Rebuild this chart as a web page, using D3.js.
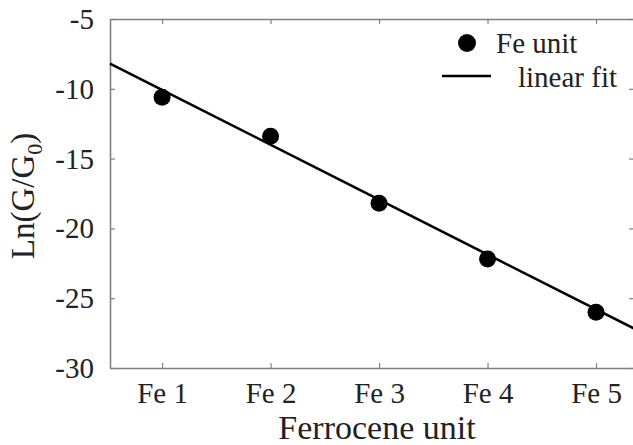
<!DOCTYPE html>
<html>
<head>
<meta charset="utf-8">
<script src="https://cdn.jsdelivr.net/npm/d3@7/dist/d3.min.js"></script>
<style>
  html, body { margin: 0; padding: 0; background: #fff; }
  svg { display: block; }
  text { font-family: "Liberation Serif", "Times New Roman", serif; fill: #222; }
</style>
</head>
<body>
<svg id="chart" width="633" height="445"></svg>
<script>
// ---- data ----
const categories = ["Fe 1", "Fe 2", "Fe 3", "Fe 4", "Fe 5"];
const unitIndex = [1, 2, 3, 4, 5];
const lnValues = [-10.6, -13.4, -18.2, -22.2, -26.0];
const fitSlope = -3.93;
const fitIntercept = -6.15;
const yTicks = [-30, -25, -20, -15, -10, -5];
const yTickLabels = ["-30", "-25", "-20", "-15", "-10", "-5"];

// ---- layout ----
const svg = d3.select("#chart");
const plotL = 110, plotR = 634, plotT = 19, plotB = 368;
const xDomain = [0.52, 5.35];

const x = d3.scaleLinear().domain(xDomain).range([plotL, plotR]);
const y = d3.scaleLinear().domain([-30, -5]).range([plotB, plotT]);

const axisColor = "#808080";
const tickFont = 29;

// bottom axis
const gx = svg.append("g").attr("transform", `translate(0,${plotB})`)
  .call(d3.axisBottom(x).tickValues(unitIndex).tickFormat((d, i) => categories[i])
    .tickSizeInner(-5).tickSizeOuter(0).tickPadding(14));
// top axis
const gxt = svg.append("g").attr("transform", `translate(0,${plotT})`)
  .call(d3.axisTop(x).tickValues(unitIndex).tickFormat("")
    .tickSizeInner(-5).tickSizeOuter(0));
// left axis
const gy = svg.append("g").attr("transform", `translate(${plotL},0)`)
  .call(d3.axisLeft(y).tickValues(yTicks).tickFormat((d, i) => yTickLabels[i])
    .tickSizeInner(-5).tickSizeOuter(0).tickPadding(16));
// right axis
const gyr = svg.append("g").attr("transform", `translate(${plotR},0)`)
  .call(d3.axisRight(y).tickValues(yTicks).tickFormat("")
    .tickSizeInner(-5).tickSizeOuter(0));

[gx, gxt, gy, gyr].forEach(g => {
  g.select(".domain").attr("stroke", axisColor).attr("stroke-width", 1.6);
  g.selectAll(".tick line").attr("stroke", axisColor).attr("stroke-width", 1.2);
  g.selectAll("text").attr("font-size", tickFont)
    .attr("font-family", '"Liberation Serif", "Times New Roman", serif')
    .attr("fill", "#222");
});
gx.selectAll(".tick text").attr("dy", "0.71em");
gy.selectAll(".tick text").attr("dy", "0.33em");

// fit line
const fitX = xDomain;
svg.append("line")
  .attr("x1", x(fitX[0])).attr("y1", y(fitIntercept + fitSlope * fitX[0]))
  .attr("x2", x(fitX[1])).attr("y2", y(fitIntercept + fitSlope * fitX[1]))
  .attr("stroke", "#000").attr("stroke-width", 2.6);

// points
svg.append("g").selectAll("circle")
  .data(lnValues)
  .join("circle")
  .attr("cx", (d, i) => x(unitIndex[i]))
  .attr("cy", d => y(d))
  .attr("r", 8.5)
  .attr("fill", "#000");

// legend
svg.append("circle").attr("cx", 467).attr("cy", 43).attr("r", 9).attr("fill", "#000");
svg.append("text").attr("x", 496).attr("y", 53).attr("font-size", 29).text("Fe unit");
svg.append("line").attr("x1", 442).attr("x2", 491).attr("y1", 76).attr("y2", 76)
  .attr("stroke", "#000").attr("stroke-width", 2.6);
svg.append("text").attr("x", 518).attr("y", 87).attr("font-size", 29).text("linear fit");

// axis titles
svg.append("text")
  .attr("x", 377).attr("y", 439)
  .attr("text-anchor", "middle")
  .attr("font-size", 34)
  .text("Ferrocene unit");

const yl = svg.append("text")
  .attr("transform", "translate(34,196) rotate(-90)")
  .attr("text-anchor", "middle")
  .attr("font-size", 33);
yl.append("tspan").text("Ln(G/G");
yl.append("tspan").attr("font-size", 22).attr("dy", 8).text("0");
yl.append("tspan").attr("dy", -8).text(")");
</script>
</body>
</html>
